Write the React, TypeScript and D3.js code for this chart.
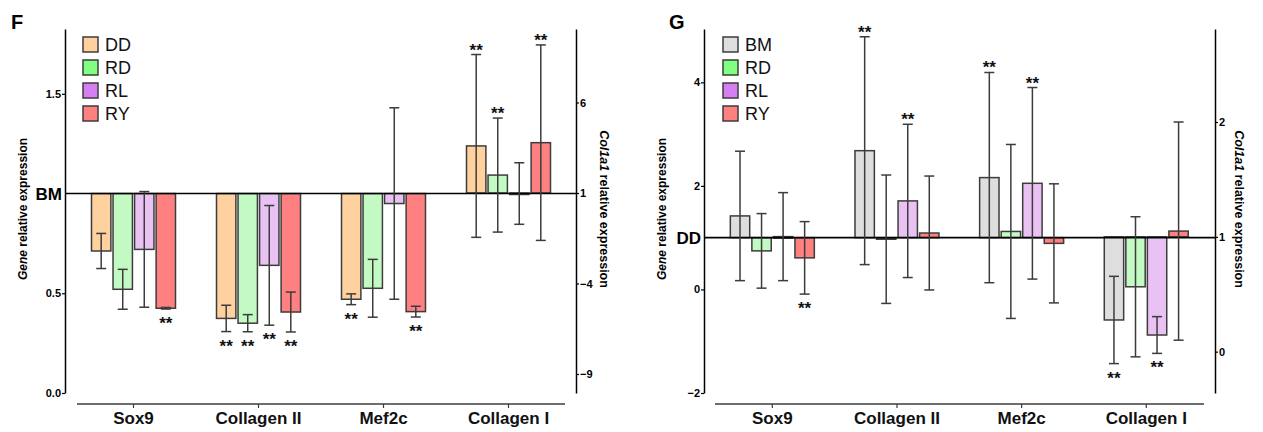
import { useEffect, useRef } from 'react';
import * as d3 from 'd3';

const categories = ['Sox9', 'Collagen II', 'Mef2c', 'Collagen I'];

// panel F (relative to BM); Collagen I is read on the right Col1a1 axis
const fSeries = ['DD', 'RD', 'RL', 'RY'];
const fMeanDD = [0.712, 0.374, 0.47, 3.6];
const fErrDD = [0.088, 0.066, 0.027, 5.05];
const fSigDD = [0, -1, -1, 1];
const fMeanRD = [0.52, 0.35, 0.525, 1.99];
const fErrRD = [0.1, 0.043, 0.145, 3.15];
const fSigRD = [0, -1, 0, 1];
const fMeanRL = [0.72, 0.64, 0.95, 0.97];
const fErrRL = [0.29, 0.3, 0.48, 1.7];
const fSigRL = [0, -1, 0, 0];
const fMeanRY = [0.425, 0.406, 0.408, 3.78];
const fErrRY = [0.004, 0.1, 0.027, 5.4];
const fSigRY = [-1, -1, -1, 1];

// panel G (relative to DD)
const gSeries = ['BM', 'RD', 'RL', 'RY'];
const gMeanBM = [1.42, 2.68, 2.16, 0.276];
const gErrBM = [1.25, 2.2, 2.03, 0.38];
const gSigBM = [0, 1, 1, -1];
const gMeanRD = [0.745, 0.97, 1.12, 0.565];
const gErrRD = [0.72, 1.24, 1.68, 0.61];
const gSigRD = [0, 0, 0, 0];
const gMeanRL = [1.02, 1.71, 2.05, 0.145];
const gErrRL = [0.85, 1.48, 1.85, 0.16];
const gSigRL = [0, 1, 1, -1];
const gMeanRY = [0.61, 1.09, 0.89, 1.05];
const gErrRY = [0.7, 1.1, 1.15, 0.95];
const gSigRY = [-1, 0, 0, 0];

const fLeftTicks = [0, 0.5, 1.5];
const fRightTicks = [-9, -4, 1, 6];
const gLeftTicks = [-2, 0, 2, 4];
const gRightTicks = [0, 1, 2];

const barFill: Record<string, string> = { DD: '#ffd19f', BM: '#dedede', RD: '#c3fac3', RL: '#e9c2f3', RY: '#ff8080' };
const legendFill: Record<string, string> = { DD: '#ffd19f', BM: '#dedede', RD: '#80ff80', RL: '#d67ff0', RY: '#ff8080' };

const FONT = '"Liberation Sans", Arial, sans-serif';
const INK = '#3c3c3c';

type Panel = {
  letter: string; letterX: number;
  leftX: number; rightX: number; top: number; bottom: number;
  xAxisY: number; xLine: [number, number]; xRange: [number, number];
  leftDomain: [number, number]; leftTicks: number[]; leftFmt: string; refLabel: string;
  rightDomain: [number, number]; rightTicks: number[];
  legendX: number; leftTitleX: number; rightTitleX: number;
  series: string[]; means: number[][]; errs: number[][]; sigs: number[][];
};

const panels: Panel[] = [
  {
    letter: 'F', letterX: 11, leftX: 65, rightX: 576, top: 29, bottom: 393,
    xAxisY: 404, xLine: [77, 565], xRange: [71, 571],
    leftDomain: [0, 1.825], leftTicks: fLeftTicks, leftFmt: '.1f', refLabel: 'BM',
    rightDomain: [-10.05, 10.06], rightTicks: fRightTicks,
    legendX: 83, leftTitleX: 27, rightTitleX: 600,
    series: fSeries,
    means: [fMeanDD, fMeanRD, fMeanRL, fMeanRY],
    errs: [fErrDD, fErrRD, fErrRL, fErrRY],
    sigs: [fSigDD, fSigRD, fSigRL, fSigRY],
  },
  {
    letter: 'G', letterX: 669, leftX: 704, rightX: 1215, top: 29, bottom: 393,
    xAxisY: 404, xLine: [715, 1204], xRange: [710, 1208.6],
    leftDomain: [-2.0, 5.03], leftTicks: gLeftTicks, leftFmt: 'd', refLabel: 'DD',
    rightDomain: [-0.36, 2.81], rightTicks: gRightTicks,
    legendX: 723, leftTitleX: 666, rightTitleX: 1235,
    series: gSeries,
    means: [gMeanBM, gMeanRD, gMeanRL, gMeanRY],
    errs: [gErrBM, gErrRD, gErrRL, gErrRY],
    sigs: [gSigBM, gSigRD, gSigRL, gSigRY],
  },
];

function drawPanel(svg: d3.Selection<SVGSVGElement, unknown, null, undefined>, p: Panel) {
  const g = svg.append('g');
  const yL = d3.scaleLinear().domain(p.leftDomain).range([p.bottom, p.top]);
  const yR = d3.scaleLinear().domain(p.rightDomain).range([p.bottom, p.top]);
  const x = d3.scaleBand().domain(categories).range(p.xRange).padding(0);
  const xs = d3.scaleBand().domain(p.series).range([-42, 42]).paddingInner(0.1);
  const scaleFor = (ci: number) => (ci === 3 ? yR : yL);

  // panel letter
  g.append('text').attr('x', p.letterX).attr('y', 29).text(p.letter)
    .style('font-family', FONT).style('font-weight', 'bold').style('font-size', '20px');

  // left axis
  const left = g.append('g').attr('transform', `translate(${p.leftX},0)`)
    .call(d3.axisLeft(yL).tickValues(p.leftTicks).tickFormat(d3.format(p.leftFmt)).tickSize(3).tickSizeOuter(0));
  left.select('.domain').attr('stroke', '#000').attr('stroke-width', 1.5);
  left.selectAll('.tick line').attr('stroke', '#000').attr('stroke-width', 1.2);
  left.selectAll('.tick text').style('font-family', FONT).style('font-weight', 'bold').style('font-size', '11px').attr('x', -4);

  g.append('text').attr('x', p.leftX - 3).attr('y', yL(1)).attr('dy', '0.36em')
    .attr('text-anchor', 'end').text(p.refLabel)
    .style('font-family', FONT).style('font-weight', 'bold').style('font-size', '17px');

  // right axis
  const right = g.append('g').attr('transform', `translate(${p.rightX},0)`)
    .call(d3.axisRight(yR).tickValues(p.rightTicks).tickFormat(d3.format('d')).tickSize(3).tickSizeOuter(0));
  right.select('.domain').attr('stroke', '#000').attr('stroke-width', 1.5);
  right.selectAll('.tick line').attr('stroke', '#000').attr('stroke-width', 1.2);
  right.selectAll('.tick text').style('font-family', FONT).style('font-weight', 'bold').style('font-size', '11px').attr('x', 4);

  // x axis
  const bottomAxis = g.append('g').attr('transform', `translate(0,${p.xAxisY})`)
    .call(d3.axisBottom(x).tickSize(4).tickSizeOuter(0));
  bottomAxis.select('.domain').remove();
  bottomAxis.append('line').attr('x1', p.xLine[0]).attr('x2', p.xLine[1]).attr('stroke', INK).attr('stroke-width', 1.5);
  bottomAxis.selectAll('.tick line').attr('stroke', INK).attr('stroke-width', 1.2);
  bottomAxis.selectAll('.tick text').attr('y', 8).attr('dy', '0.71em').attr('fill', '#111')
    .style('font-family', FONT).style('font-weight', 'bold').style('font-size', '17px');

  // axis titles
  const midY = 209;
  const lt = g.append('text').attr('transform', `translate(${p.leftTitleX},${midY}) rotate(-90)`)
    .attr('text-anchor', 'middle').style('font-family', FONT).style('font-weight', 'bold').style('font-size', '12px');
  lt.append('tspan').style('font-style', 'italic').text('Gene');
  lt.append('tspan').text(' relative expression');
  const rt = g.append('text').attr('transform', `translate(${p.rightTitleX},${midY}) rotate(90)`)
    .attr('text-anchor', 'middle').style('font-family', FONT).style('font-weight', 'bold').style('font-size', '12.5px');
  rt.append('tspan').style('font-style', 'italic').text('Col1a1');
  rt.append('tspan').text(' relative expression');

  // bars
  const bars = p.series.flatMap((s, si) => categories.map((c, ci) => ({
    s, c, ci, mean: p.means[si][ci], err: p.errs[si][ci], sig: p.sigs[si][ci],
  })));
  const cx = (d: { s: string; c: string }) => (x(d.c) as number) + x.bandwidth() / 2 + (xs(d.s) as number);
  const bw = xs.bandwidth();

  g.selectAll('rect.bar').data(bars).join('rect').attr('class', 'bar')
    .attr('x', d => cx(d))
    .attr('width', bw)
    .attr('y', d => Math.min(scaleFor(d.ci)(d.mean), scaleFor(d.ci)(1)))
    .attr('height', d => Math.max(1.5, Math.abs(scaleFor(d.ci)(d.mean) - scaleFor(d.ci)(1))))
    .attr('fill', d => barFill[d.s])
    .attr('stroke', INK).attr('stroke-width', 1.5);

  // reference line
  g.append('line').attr('x1', p.leftX).attr('x2', p.rightX).attr('y1', yL(1)).attr('y2', yL(1))
    .attr('stroke', '#000').attr('stroke-width', 1.6);

  // error bars
  const eb = g.selectAll('g.err').data(bars).join('g').attr('class', 'err')
    .attr('stroke', INK).attr('stroke-width', 1.5);
  eb.append('line').attr('x1', d => cx(d) + bw / 2).attr('x2', d => cx(d) + bw / 2)
    .attr('y1', d => scaleFor(d.ci)(d.mean + d.err)).attr('y2', d => scaleFor(d.ci)(d.mean - d.err));
  [1, -1].forEach(sign => {
    eb.append('line').attr('x1', d => cx(d) + bw / 2 - 5).attr('x2', d => cx(d) + bw / 2 + 5)
      .attr('y1', d => scaleFor(d.ci)(d.mean + sign * d.err)).attr('y2', d => scaleFor(d.ci)(d.mean + sign * d.err));
  });

  // significance
  g.selectAll('text.sig').data(bars.filter(d => d.sig !== 0)).join('text').attr('class', 'sig')
    .attr('x', d => cx(d) + bw / 2)
    .attr('y', d => d.sig > 0 ? scaleFor(d.ci)(d.mean + d.err) + 1 : scaleFor(d.ci)(d.mean - d.err) + 20)
    .attr('text-anchor', 'middle').attr('fill', '#111')
    .style('font-family', FONT).style('font-weight', 'bold').style('font-size', '17px')
    .text('**');

  // legend
  const leg = g.append('g').attr('transform', `translate(${p.legendX},37)`);
  const items = leg.selectAll('g').data(p.series).join('g')
    .attr('transform', (_d, i) => `translate(0,${i * 23})`);
  items.append('rect').attr('width', 15).attr('height', 15)
    .attr('fill', d => legendFill[d]).attr('stroke', INK).attr('stroke-width', 1.5);
  items.append('text').attr('x', 22).attr('y', 8).attr('dy', '0.36em').text(d => d)
    .style('font-family', FONT).style('font-size', '18px').attr('fill', '#111');
}

export default function App() {
  const svgRef = useRef<SVGSVGElement>(null);

  useEffect(() => {
    document.body.style.margin = '0';
    const svg = d3.select(svgRef.current as SVGSVGElement);
    svg.selectAll('*').remove();
    panels.forEach(p => drawPanel(svg, p));
  }, []);

  return <svg ref={svgRef} width={1263} height={432} style={{ display: 'block', background: '#fff' }} />;
}
